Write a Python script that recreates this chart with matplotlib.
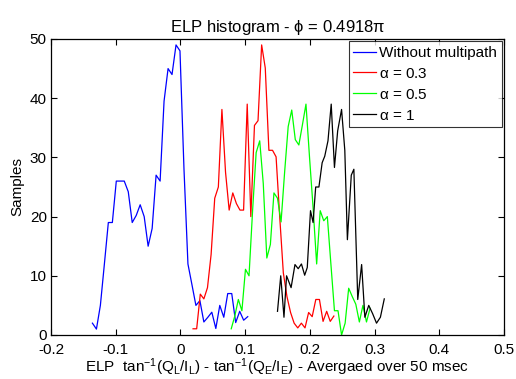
import matplotlib
matplotlib.use("Agg")
import matplotlib.pyplot as plt

plt.rcParams['font.family'] = ['Liberation Sans', 'DejaVu Sans']
plt.rcParams['mathtext.fontset'] = 'custom'
plt.rcParams['mathtext.rm'] = 'Liberation Sans'
plt.rcParams['mathtext.it'] = 'Liberation Sans'

# ---- data ----
blue_x = [-0.136, -0.1298, -0.1237, -0.1175, -0.1114, -0.1052, -0.0991, -0.0929, -0.0868, -0.0806,
          -0.0745, -0.0683, -0.0622, -0.056, -0.0499, -0.0437, -0.0376, -0.0314, -0.0253, -0.0191,
          -0.013, -0.0068, -0.0007, 0.0055, 0.0116, 0.0178, 0.0239, 0.0301, 0.0362, 0.0424,
          0.0485, 0.0547, 0.0608, 0.067, 0.0731, 0.0793, 0.0854, 0.0916, 0.0977, 0.104]
blue_y = [2.0, 1.0, 5.0, 12.0, 19.0, 19.0, 26.0, 26.0, 26.0, 24.2,
          19.0, 20.2, 22.0, 20.0, 15.0, 18.0, 27.0, 26.0, 39.5, 45.0,
          44.0, 49.0, 48.0, 28.0, 12.0, 8.5, 5.0, 5.8, 2.2, 3.0,
          3.85, 1.1, 5.0, 3.0, 7.0, 7.0, 2.1, 4.0, 2.5, 3.1]

red_x = [0.0195, 0.0251, 0.0307, 0.0362, 0.0418, 0.0474, 0.053, 0.0586, 0.0641, 0.0697,
         0.0753, 0.0809, 0.0865, 0.092, 0.0976, 0.1032, 0.1088, 0.1144, 0.1199, 0.1255,
         0.1311, 0.1367, 0.1423, 0.1478, 0.1534, 0.159, 0.1646, 0.1702, 0.1757, 0.1813,
         0.1869, 0.1925, 0.1981, 0.2036, 0.2092, 0.2148, 0.2204, 0.226, 0.2315, 0.2371]
red_y = [1.05, 1.05, 6.9, 6.1, 8.0, 13.6, 23.1, 25.0, 38.1, 27.5,
         21.1, 24.0, 22.2, 21.1, 21.1, 39.0, 20.0, 35.4, 36.2, 49.0,
         45.1, 31.2, 31.2, 30.1, 20.0, 10.5, 6.5, 3.8, 2.0, 1.2,
         2.0, 1.2, 3.8, 3.1, 6.0, 6.0, 2.3, 4.0, 2.3, 3.2]

green_x = [0.0785, 0.084, 0.0895, 0.095, 0.1005, 0.106, 0.1115, 0.117, 0.1225, 0.128,
           0.1335, 0.139, 0.1445, 0.15, 0.1555, 0.161, 0.1665, 0.172, 0.1775, 0.183,
           0.1885, 0.194, 0.1995, 0.205, 0.2105, 0.216, 0.2215, 0.227, 0.2325, 0.238,
           0.2435, 0.249, 0.2545, 0.26, 0.2655, 0.271, 0.2765, 0.282, 0.2875, 0.293]
green_y = [1.05, 3.2, 6.0, 4.1, 11.1, 10.0, 21.0, 30.8, 32.8, 25.6,
           13.0, 15.3, 24.0, 23.1, 19.1, 27.5, 35.2, 38.0, 33.0, 32.1,
           35.5, 39.0, 30.0, 21.5, 12.0, 21.0, 19.3, 20.0, 12.0, 4.1,
           4.1, 0.0, 2.0, 7.9, 6.5, 5.2, 2.2, 5.0, 2.2, 4.5]

black_x = [0.150, 0.155, 0.160, 0.164, 0.171, 0.177, 0.182, 0.187, 0.192, 0.196,
           0.201, 0.205, 0.209, 0.214, 0.219, 0.223, 0.228, 0.233, 0.238, 0.243,
           0.249, 0.254, 0.258, 0.264, 0.268, 0.274, 0.280, 0.285, 0.291, 0.297,
           0.303, 0.309, 0.315]
black_y = [4.0, 10.0, 3.0, 10.0, 8.0, 11.9, 11.2, 12.0, 10.1, 11.4,
           21.0, 19.0, 25.0, 25.0, 29.1, 30.2, 32.8, 39.0, 28.3, 34.5,
           38.1, 31.2, 16.1, 27.0, 28.0, 6.0, 11.9, 3.0, 5.0, 3.6,
           2.0, 3.0, 6.1]

labels = ['Without multipath', r'$\alpha$ = 0.3', r'$\alpha$ = 0.5', r'$\alpha$ = 1']
colors = ['#0000ff', '#ff0000', '#00ff00', '#000000']

xticks = [-0.2, -0.1, 0, 0.1, 0.2, 0.3, 0.4, 0.5]
xticklabels = ['-0.2', '-0.1', '0', '0.1', '0.2', '0.3', '0.4', '0.5']
yticks = [0, 10, 20, 30, 40, 50]

# ---- plot ----
fig = plt.figure(figsize=(5.16, 3.79), dpi=100)
ax = fig.add_axes([51/516, 44/379, 453/516, 296/379])

series = [(blue_x, blue_y), (red_x, red_y), (green_x, green_y), (black_x, black_y)]
for (xs, ys), c, lab in zip(series, colors, labels):
    ax.plot(xs, ys, color=c, lw=0.9, label=lab)

ax.set_xlim(-0.2, 0.5)
ax.set_ylim(0, 50)
ax.set_xticks(xticks)
ax.set_xticklabels(xticklabels)
ax.set_yticks(yticks)
ax.tick_params(direction='in', top=True, right=True, length=4, width=0.8,
               labelsize=11)
ax.tick_params(axis='x', pad=6)
ax.tick_params(axis='y', pad=3)
for s in ax.spines.values():
    s.set_linewidth(0.9)

ax.set_title(r'ELP histogram - $\phi$ = 0.4918$\pi$', fontsize=12, pad=5)
ax.set_ylabel('Samples', fontsize=11, labelpad=4)
ax.set_xlabel(r'ELP  tan$^{-1}$(Q$_L$/I$_L$) - tan$^{-1}$(Q$_E$/I$_E$) - Avergaed over 50 msec',
              fontsize=11, labelpad=-0.5)

leg = ax.legend(loc='upper right', fontsize=11, frameon=True, fancybox=False,
                edgecolor='black', borderpad=0.3, handlelength=1.5, handletextpad=0.2,
                labelspacing=0.45, borderaxespad=0.15)
leg.get_frame().set_linewidth(0.8)

fig.savefig('out.png', dpi=100)
